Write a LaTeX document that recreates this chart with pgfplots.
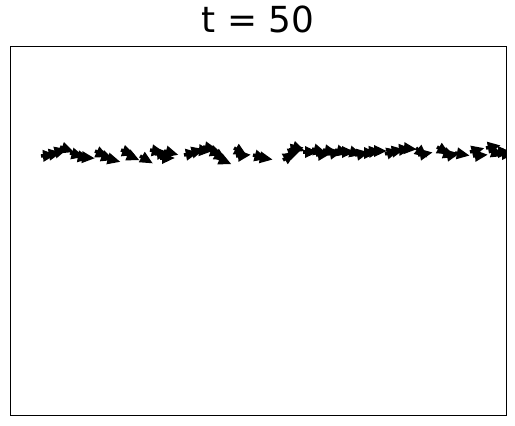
\documentclass[border=0pt]{standalone}
\usepackage{fontspec}
\setmainfont{DejaVu Sans}
\usepackage{pgfplots}
\pgfplotsset{compat=1.18}
\usepackage{pgfplotstable}
\usetikzlibrary{arrows.meta}
\pgfplotstableread{
px py a
41 156 5
47 155 10
53 153 15
60 147 -20
70 153 -15
76 156 -10
80 157 -5
95 151 -25
100 155 -20
106 158 -15
121 150 -20
126 154 -25
140 156 -30
150 150 -10
155 154 5
160 158 0
164 151 -15
184 155 10
190 153 15
197 150 -5
203 147 -10
209 150 -20
214 153 -30
218 158 -25
234 148 -30
236 156 5
253 155 -15
258 157 -10
283 160 30
287 155 20
289 150 10
291 146 -20
303 152 0
312 149 -15
316 155 5
323 150 -10
328 154 10
335 150 -15
340 152 0
348 151 -15
355 155 10
362 153 0
367 152 5
372 151 0
385 154 15
390 152 10
397 150 5
402 148 -5
416 148 -40
418 155 10
437 147 -30
442 152 -20
445 156 10
455 153 -10
470 152 15
473 156 5
486 148 10
490 151 -20
496 152 0
500 154 0
}\arrows
\begin{document}
\begin{tikzpicture}
\useasboundingbox (-10bp,-11bp) rectangle (505bp,415bp);
\begin{axis}[
  at={(0,0)}, anchor=south west,
  scale only axis, width=496bp, height=369bp,
  xmin=0, xmax=496, ymin=0, ymax=369,
  xtick=\empty, ytick=\empty,
  axis line style={line width=0.8bp},
  title={t = 50},
  title style={at={(0.5,1)}, anchor=base, yshift=8bp, font=\fontsize{36}{36}\selectfont},
]
\addplot[black, line width=3.5bp,
  -{Triangle[length=13bp,width=11bp]},
  quiver={u={15*cos(\thisrow{a})}, v={15*sin(\thisrow{a})}}]
  table[x expr=\thisrow{px}-10, y expr=415-\thisrow{py}] {\arrows};
\end{axis}
\end{tikzpicture}
\end{document}
